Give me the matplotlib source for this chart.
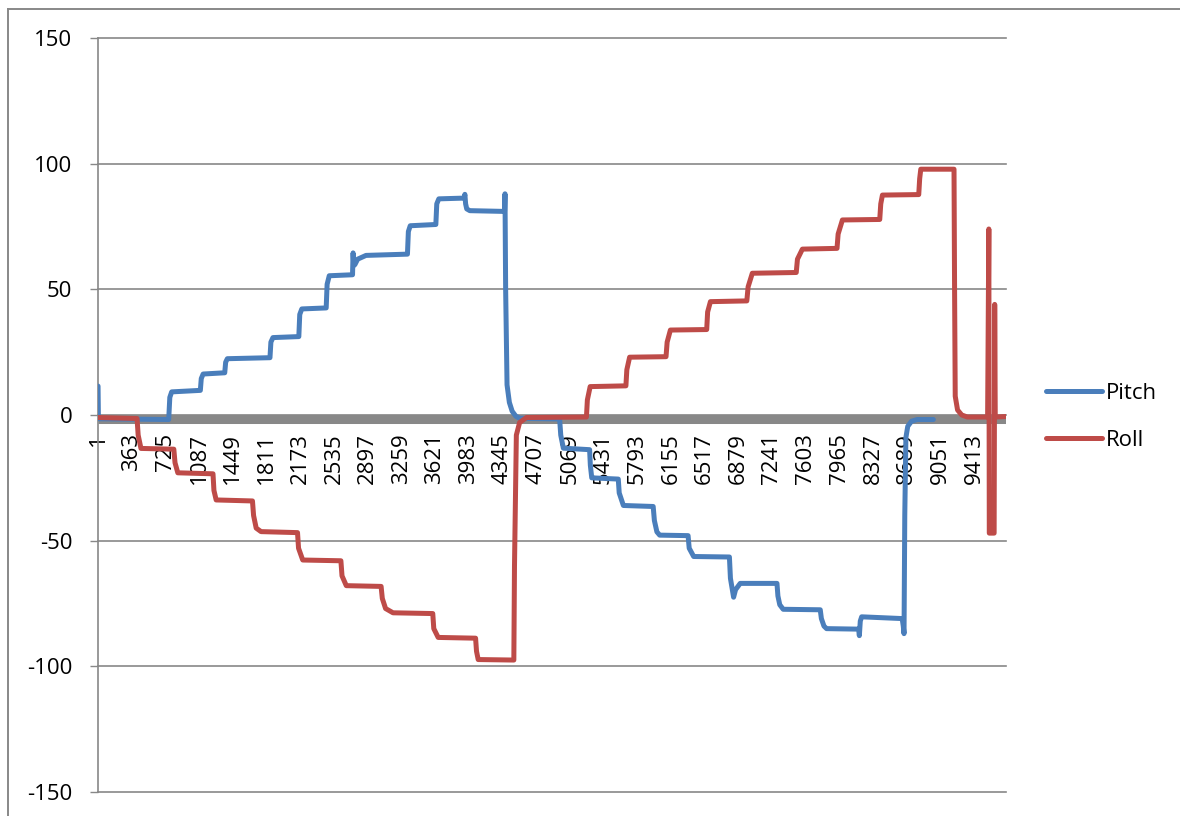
import matplotlib
matplotlib.use("Agg")
import matplotlib.pyplot as plt
from matplotlib.lines import Line2D
from matplotlib.transforms import offset_copy

plt.rcParams['font.family'] = ['Open Sans', 'DejaVu Sans']

# sample number / angle (deg) at the corners of each trace
pitch_idx = [1, 5, 760, 772, 792, 1100, 1110, 1130, 1362, 1372, 1390, 1848, 1858, 1880,
             2158, 2168, 2190, 2452, 2462, 2485, 2735, 2741, 2748, 2760, 2790, 2880,
             3325, 3335, 3355, 3630, 3640, 3662, 3935, 3942, 3950, 3962, 3995, 4368,
             4373, 4380, 4395, 4420, 4450, 4490, 4530, 4960, 4972, 5000, 5282, 5290,
             5305, 5590, 5600, 5645, 5965, 5978, 6005, 6035, 6340, 6352, 6400, 6784,
             6795, 6829, 6850, 6900, 7295, 7305, 7325, 7362, 7760, 7772, 7800, 7828,
             8172, 8180, 8190, 8205, 8640, 8652, 8660, 8668, 8680, 8700, 8740, 8800, 8975]
pitch_val = [11.5, -1.5, -1.8, 7.0, 9.2, 9.8, 14.5, 16.3, 16.8, 21.0, 22.4, 22.8, 29.0, 30.8,
             31.2, 40.0, 42.2, 42.6, 52.0, 55.4, 55.8, 64.5, 59.5, 59.8, 62.0, 63.5,
             64.0, 73.0, 75.3, 75.8, 84.0, 86.0, 86.3, 87.8, 84.0, 82.0, 81.3, 81.0,
             88.0, 50.0, 12.0, 5.0, 1.5, -0.5, -1.3, -1.6, -8.0, -13.2, -13.8, -20.0,
             -25.0, -25.5, -31.0, -36.0, -36.4, -42.0, -46.5, -47.8, -48.0, -53.0, -56.3, -56.5,
             -65.0, -72.5, -69.5, -67.0, -67.0, -72.0, -75.5, -77.3, -77.5, -81.0, -84.0, -85.0,
             -85.2, -87.8, -82.0, -80.3, -81.0, -84.0, -87.0, -40.0, -9.0, -4.5, -2.5, -1.8, -1.8]

roll_idx = [1, 420, 432, 462, 815, 828, 858, 1236, 1246, 1270, 1660, 1672, 1700, 1752,
            2144, 2155, 2200, 2610, 2622, 2668, 3042, 3055, 3090, 3170, 3597, 3608, 3655,
            4057, 4067, 4085, 4468, 4475, 4495, 4530, 4604, 5248, 5258, 5288, 5672, 5682,
            5712, 6103, 6115, 6150, 6540, 6550, 6580, 6971, 6985, 7030, 7502, 7515, 7568,
            7940, 7952, 7998, 8399, 8410, 8428, 8818, 8828, 8840, 9197, 9203, 9210, 9235,
            9280, 9340, 9558, 9571, 9576, 9628, 9634, 9640, 9755]
roll_val = [-1.0, -1.4, -8.0, -13.3, -13.6, -19.0, -23.0, -23.4, -30.0, -33.8, -34.2, -40.0, -45.0, -46.4,
            -46.8, -53.0, -57.7, -58.0, -64.0, -67.9, -68.2, -73.0, -77.0, -78.7, -79.0, -85.0, -88.5,
            -88.8, -94.0, -97.3, -97.5, -60.0, -8.0, -3.0, -1.0, -0.8, 6.0, 11.3, 11.6, 18.0,
            23.0, 23.2, 29.0, 33.8, 34.0, 41.0, 45.1, 45.4, 51.0, 56.4, 56.7, 62.0, 66.0,
            66.3, 72.0, 77.6, 77.8, 84.0, 87.5, 87.7, 94.0, 97.8, 97.8, 50.0, 7.5, 2.0,
            0.0, -0.8, -0.8, 74.0, -47.0, -47.0, 44.0, -0.8, -0.6]

n_samples = 9755
tick_step = 362
y_ticks = [-150, -100, -50, 0, 50, 100, 150]

blue = '#4A7EBB'
red = '#BE4B48'
grey = '#888888'

fig = plt.figure(figsize=(11.8, 8.16), dpi=100)
ax = fig.add_axes([98 / 1180, 1 - 792 / 816, 908 / 1180, 754 / 816])

line_kw = dict(lw=3.6, solid_capstyle='round', solid_joinstyle='round', zorder=3)
ax.plot(pitch_idx, pitch_val, color=blue, label='Pitch', **line_kw)
ax.plot(roll_idx, roll_val, color=red, label='Roll', **line_kw)

# thick grey category axis through zero
band = offset_copy(ax.get_yaxis_transform(), fig=fig, y=-4, units='dots')
ax.plot([0, 1], [0, 0], color=grey, lw=6.5, transform=band, zorder=2,
        solid_capstyle='butt')

ax.set_xlim(0.5, n_samples + 0.5)
ax.set_ylim(-150, 150)

# x labels hang under the zero line
ax.spines['bottom'].set_position(('data', 0))
ax.spines['bottom'].set_color('none')
xt = list(range(1, n_samples + 1, tick_step))
ax.set_xticks(xt)
ax.set_xticklabels([str(t) for t in xt], rotation=90, fontsize=16)
ax.tick_params(axis='x', length=0, pad=13)

ax.set_yticks(y_ticks)
ax.set_yticklabels([str(t) for t in y_ticks], fontsize=16)
ax.tick_params(axis='y', length=6, width=1.0, color=grey, pad=12.5)

ax.grid(axis='y', color=grey, lw=1.2)
for gl in ax.get_ygridlines():
    gl.set_clip_on(False)
ax.set_axisbelow(True)

for s in ['top', 'right']:
    ax.spines[s].set_visible(False)
ax.spines['left'].set_color(grey)
ax.spines['left'].set_linewidth(1.2)

ax.legend(loc='center left', bbox_to_anchor=(1046 / 1180, 1 - 417 / 816),
          bbox_transform=fig.transFigure, frameon=False, fontsize=16,
          borderpad=0, borderaxespad=0, handlelength=2.5, handletextpad=0.2,
          labelspacing=1.16)

# chart area border
fig.add_artist(Line2D([8 / 1180, 1], [1 - 9 / 816, 1 - 9 / 816], color=grey, lw=1.4,
                      transform=fig.transFigure))
fig.add_artist(Line2D([8 / 1180, 8 / 1180], [0, 1 - 9 / 816], color=grey, lw=1.4,
                      transform=fig.transFigure))

fig.savefig('out.png', dpi=100)
